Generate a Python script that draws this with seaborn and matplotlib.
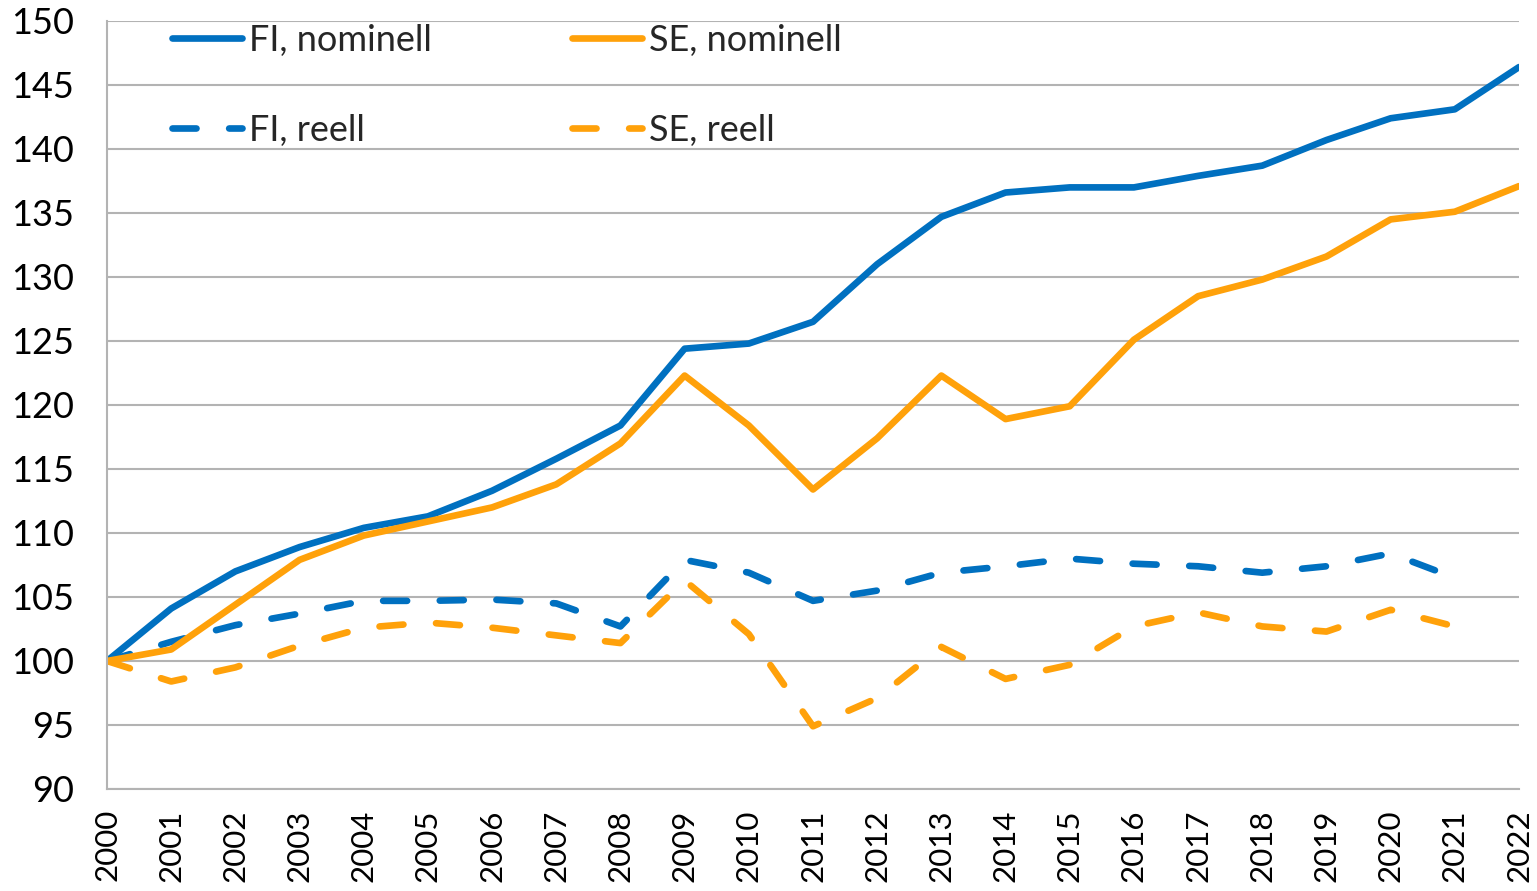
import matplotlib
matplotlib.use("Agg")
import matplotlib.pyplot as plt
import seaborn as sns
import pandas as pd
import numpy as np

years = list(range(2000, 2023))
fi_nom = [100, 104.1, 107.0, 108.9, 110.4, 111.3, 113.3, 115.8, 118.4, 124.4, 124.8, 126.5,
          131.0, 134.7, 136.6, 137.0, 137.0, 137.9, 138.7, 140.7, 142.4, 143.1, 146.4]
se_nom = [100, 100.9, 104.4, 107.9, 109.8, 110.9, 112.0, 113.8, 117.0, 122.3, 118.4, 113.4,
          117.4, 122.3, 118.9, 119.9, 125.1, 128.5, 129.8, 131.6, 134.5, 135.1, 137.1]
fi_real = [100, 101.5, 102.8, 103.7, 104.7, 104.7, 104.8, 104.5, 102.7, 107.9, 106.9, 104.7,
           105.5, 106.9, 107.4, 108.0, 107.6, 107.4, 106.9, 107.4, 108.4, 106.5]
se_real = [100, 98.4, 99.5, 101.2, 102.6, 103.0, 102.6, 102.0, 101.4, 106.3, 102.1, 94.9,
           97.1, 101.1, 98.6, 99.7, 102.7, 103.8, 102.7, 102.3, 104.0, 102.7]

labels = ["FI, nominell", "FI, reell", "SE, nominell", "SE, reell"]
blue = "#0070C0"
orange = "#FFA10A"

sns.set_style("white")
plt.rcParams['font.family'] = ['Lato', 'DejaVu Sans']

fig = plt.figure(figsize=(15.37, 8.91), dpi=100)
ax = fig.add_axes([107/1537, 1-789/891, (1519-107)/1537, (789-21)/891])

lw = 4.8
fs = 26
series = [
    (fi_nom, labels[0], blue, "-"),
    (fi_real, labels[1], blue, "--"),
    (se_nom, labels[2], orange, "-"),
    (se_real, labels[3], orange, "--"),
]
for vals, lab, col, ls in series:
    df = pd.DataFrame({"year": years[:len(vals)], "value": vals})
    kw = dict(solid_capstyle="round", dash_capstyle="round")
    if ls == "--":
        kw["dashes"] = (3.6, 4.9)
    sns.lineplot(data=df, x="year", y="value", ax=ax, color=col, linewidth=lw,
                 label=lab, **kw)

ax.set_xlim(2000, 2022)
ax.set_ylim(90, 150)
ax.set_yticks(np.arange(90, 151, 5))
ax.set_xticks(years)
ax.set_xticklabels([str(y) for y in years], rotation=90)
ax.set_xlabel("")
ax.set_ylabel("")
ax.grid(axis="y", color="#b3b3b3", linewidth=1.5)
ax.set_axisbelow(True)
for s in ["top", "right"]:
    ax.spines[s].set_visible(False)
for s in ["left", "bottom"]:
    ax.spines[s].set_color("#b3b3b3")
    ax.spines[s].set_linewidth(1.5)
ax.tick_params(axis="both", which="both", colors="#b3b3b3",
               labelcolor="black", length=8.5, width=1.5, direction="out")
ax.tick_params(axis="y", pad=15, labelsize=fs)
ax.tick_params(axis="x", pad=6, labelsize=22.5)

leg = ax.legend(ncol=2, frameon=False, loc="upper left",
                bbox_to_anchor=(0.033, 1.0197), fontsize=fs, borderpad=0,
                handlelength=1.95, handletextpad=0.19, columnspacing=3.88,
                labelspacing=1.58)

fig.savefig("out.png", dpi=100)
